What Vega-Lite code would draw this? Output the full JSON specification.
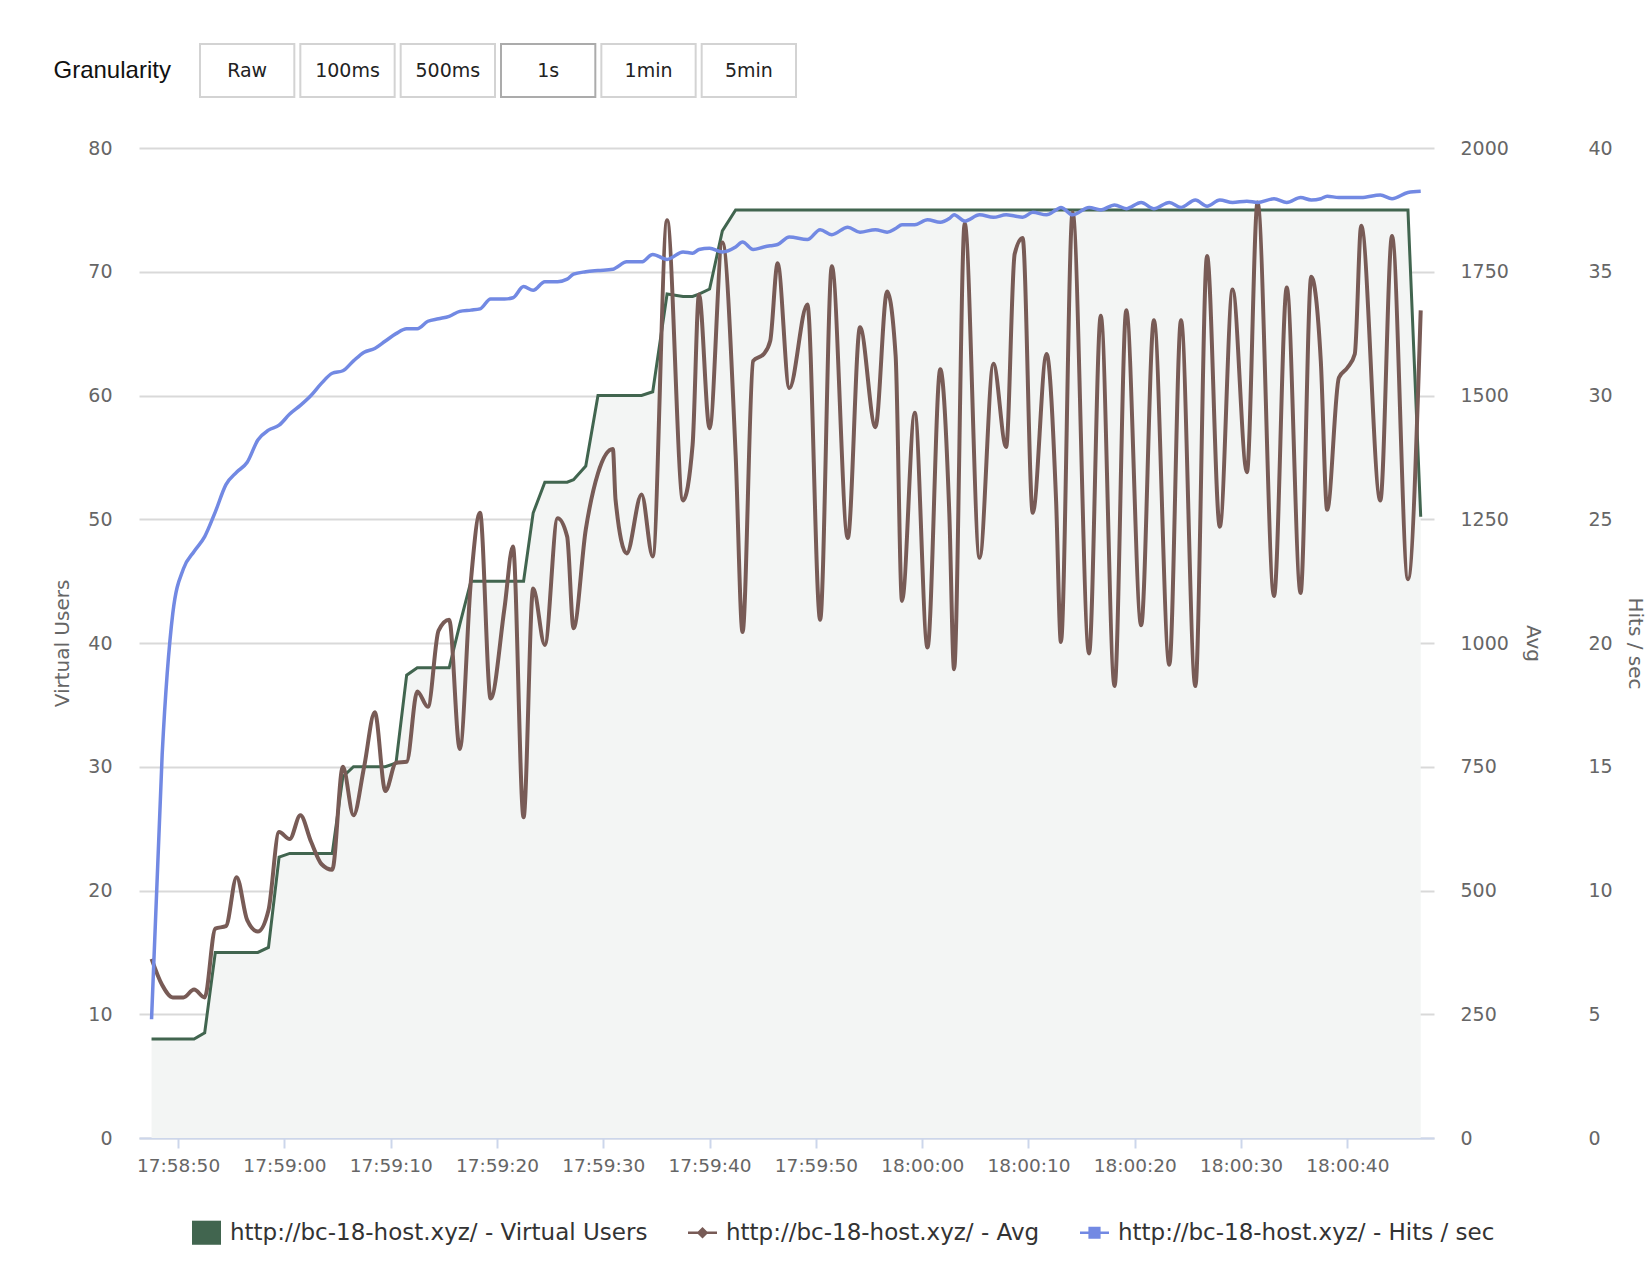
{
  "$schema": "https://vega.github.io/schema/vega-lite/v6.json",
  "background": "white",
  "padding": {"left": 52, "top": 43, "right": 2, "bottom": 0},
  "spacing": 41,
  "config": {
    "view": {"stroke": null},
    "font": "DejaVu Sans",
    "axis": {"labelFont": "DejaVu Sans", "titleFont": "DejaVu Sans"}
  },
  "vconcat": [
    {
      "width": 718,
      "height": 53,
      "data": {"values": [
        {"label": "Raw", "group": "Granularity"},
        {"label": "100ms", "group": "Granularity"},
        {"label": "500ms", "group": "Granularity"},
        {"label": "1s", "group": "Granularity"},
        {"label": "1min", "group": "Granularity"},
        {"label": "5min", "group": "Granularity"}
      ]},
      "encoding": {
        "x": {"field": "label", "type": "nominal", "sort": null, "scale": {"paddingInner": 0.06, "paddingOuter": 0.608}, "axis": null},
        "y": {"field": "group", "type": "nominal", "scale": {"paddingInner": 0, "paddingOuter": 0},
              "axis": {"title": null, "domain": false, "ticks": false, "tickSize": 0, "labelAlign": "left", "labelPadding": 86, "labelFont": "Liberation Sans", "labelFontSize": 24, "labelColor": "#111111", "labelLimit": 300}}
      },
      "layer": [
        {
          "mark": {"type": "rect", "fill": "white", "strokeWidth": 2},
          "encoding": {
            "stroke": {"condition": {"test": "datum.label === '1s'", "value": "#ababab"}, "value": "#d3d3d3"}
          }
        },
        {
          "mark": {"type": "text", "fontSize": 19, "color": "#222222", "font": "DejaVu Sans"},
          "encoding": {
            "text": {"field": "label"}
          }
        }
      ]
    },
    {
      "width": 1295,
      "height": 990,
      "data": {"values": [
        {"t": "2024-01-01T17:58:47.500Z", "vu": 8, "avg": 362, "hits": 4.8},
        {"t": "2024-01-01T17:58:48.500Z", "vu": 8, "avg": 309, "hits": 15.5},
        {"t": "2024-01-01T17:58:49.500Z", "vu": 8, "avg": 284, "hits": 21.2},
        {"t": "2024-01-01T17:58:50.500Z", "vu": 8, "avg": 284, "hits": 23.0},
        {"t": "2024-01-01T17:58:51.500Z", "vu": 8, "avg": 300, "hits": 23.7},
        {"t": "2024-01-01T17:58:52.500Z", "vu": 8.5, "avg": 284, "hits": 24.3},
        {"t": "2024-01-01T17:58:53.500Z", "vu": 15, "avg": 423, "hits": 25.3},
        {"t": "2024-01-01T17:58:54.500Z", "vu": 15, "avg": 428, "hits": 26.4},
        {"t": "2024-01-01T17:58:55.500Z", "vu": 15, "avg": 527, "hits": 26.9},
        {"t": "2024-01-01T17:58:56.500Z", "vu": 15, "avg": 440, "hits": 27.3},
        {"t": "2024-01-01T17:58:57.500Z", "vu": 15, "avg": 417, "hits": 28.2},
        {"t": "2024-01-01T17:58:58.500Z", "vu": 15.4, "avg": 460, "hits": 28.6},
        {"t": "2024-01-01T17:58:59.500Z", "vu": 22.7, "avg": 618, "hits": 28.8},
        {"t": "2024-01-01T17:59:00.500Z", "vu": 23, "avg": 604, "hits": 29.25},
        {"t": "2024-01-01T17:59:01.500Z", "vu": 23, "avg": 652, "hits": 29.6},
        {"t": "2024-01-01T17:59:02.500Z", "vu": 23, "avg": 599, "hits": 30.0},
        {"t": "2024-01-01T17:59:03.500Z", "vu": 23, "avg": 553, "hits": 30.5},
        {"t": "2024-01-01T17:59:04.500Z", "vu": 23, "avg": 542, "hits": 30.9},
        {"t": "2024-01-01T17:59:05.500Z", "vu": 29.2, "avg": 750, "hits": 31.0},
        {"t": "2024-01-01T17:59:06.500Z", "vu": 30, "avg": 652, "hits": 31.4},
        {"t": "2024-01-01T17:59:07.500Z", "vu": 30, "avg": 750, "hits": 31.75},
        {"t": "2024-01-01T17:59:08.500Z", "vu": 30, "avg": 860, "hits": 31.9},
        {"t": "2024-01-01T17:59:09.500Z", "vu": 30, "avg": 701, "hits": 32.2},
        {"t": "2024-01-01T17:59:10.500Z", "vu": 30.3, "avg": 758, "hits": 32.5},
        {"t": "2024-01-01T17:59:11.500Z", "vu": 37.4, "avg": 760, "hits": 32.7},
        {"t": "2024-01-01T17:59:12.500Z", "vu": 38, "avg": 902, "hits": 32.7},
        {"t": "2024-01-01T17:59:13.500Z", "vu": 38, "avg": 871, "hits": 33.0},
        {"t": "2024-01-01T17:59:14.500Z", "vu": 38, "avg": 1025, "hits": 33.1},
        {"t": "2024-01-01T17:59:15.500Z", "vu": 38, "avg": 1047, "hits": 33.2},
        {"t": "2024-01-01T17:59:16.500Z", "vu": 41.5, "avg": 786, "hits": 33.4},
        {"t": "2024-01-01T17:59:17.550Z", "vu": 45, "avg": 1127, "hits": 33.45},
        {"t": "2024-01-01T17:59:18.400Z", "vu": 45, "avg": 1263, "hits": 33.5},
        {"t": "2024-01-01T17:59:19.400Z", "vu": 45, "avg": 888, "hits": 33.9},
        {"t": "2024-01-01T17:59:20.700Z", "vu": 45, "avg": 1070, "hits": 33.9},
        {"t": "2024-01-01T17:59:21.500Z", "vu": 45, "avg": 1195, "hits": 33.95},
        {"t": "2024-01-01T17:59:22.500Z", "vu": 45, "avg": 648, "hits": 34.4},
        {"t": "2024-01-01T17:59:23.400Z", "vu": 50.5, "avg": 1110, "hits": 34.25},
        {"t": "2024-01-01T17:59:24.500Z", "vu": 53, "avg": 996, "hits": 34.6},
        {"t": "2024-01-01T17:59:25.700Z", "vu": 53, "avg": 1252, "hits": 34.6},
        {"t": "2024-01-01T17:59:26.600Z", "vu": 53, "avg": 1215, "hits": 34.7},
        {"t": "2024-01-01T17:59:27.200Z", "vu": 53.2, "avg": 1030, "hits": 34.9},
        {"t": "2024-01-01T17:59:28.350Z", "vu": 54.3, "avg": 1229, "hits": 35.0},
        {"t": "2024-01-01T17:59:29.500Z", "vu": 60, "avg": 1343, "hits": 35.05},
        {"t": "2024-01-01T17:59:30.900Z", "vu": 60, "avg": 1392, "hits": 35.1},
        {"t": "2024-01-01T17:59:31.150Z", "vu": 60, "avg": 1290, "hits": 35.15},
        {"t": "2024-01-01T17:59:32.200Z", "vu": 60, "avg": 1181, "hits": 35.4},
        {"t": "2024-01-01T17:59:33.600Z", "vu": 60, "avg": 1300, "hits": 35.4},
        {"t": "2024-01-01T17:59:34.650Z", "vu": 60.3, "avg": 1175, "hits": 35.7},
        {"t": "2024-01-01T17:59:36.000Z", "vu": 68.2, "avg": 1854, "hits": 35.5},
        {"t": "2024-01-01T17:59:37.500Z", "vu": 68, "avg": 1288, "hits": 35.8},
        {"t": "2024-01-01T17:59:38.400Z", "vu": 68, "avg": 1400, "hits": 35.75},
        {"t": "2024-01-01T17:59:39.000Z", "vu": 68.2, "avg": 1704, "hits": 35.9},
        {"t": "2024-01-01T17:59:40.000Z", "vu": 68.6, "avg": 1434, "hits": 35.95},
        {"t": "2024-01-01T17:59:41.200Z", "vu": 73.3, "avg": 1809, "hits": 35.8},
        {"t": "2024-01-01T17:59:42.450Z", "vu": 75, "avg": 1380, "hits": 36.0},
        {"t": "2024-01-01T17:59:43.100Z", "vu": 75, "avg": 1022, "hits": 36.2},
        {"t": "2024-01-01T17:59:44.100Z", "vu": 75, "avg": 1570, "hits": 35.9},
        {"t": "2024-01-01T17:59:45.100Z", "vu": 75, "avg": 1584, "hits": 36.0},
        {"t": "2024-01-01T17:59:45.700Z", "vu": 75, "avg": 1610, "hits": 36.05},
        {"t": "2024-01-01T17:59:46.400Z", "vu": 75, "avg": 1767, "hits": 36.1},
        {"t": "2024-01-01T17:59:47.500Z", "vu": 75, "avg": 1515, "hits": 36.4},
        {"t": "2024-01-01T17:59:49.200Z", "vu": 75, "avg": 1684, "hits": 36.3},
        {"t": "2024-01-01T17:59:50.400Z", "vu": 75, "avg": 1047, "hits": 36.7},
        {"t": "2024-01-01T17:59:51.500Z", "vu": 75, "avg": 1761, "hits": 36.5},
        {"t": "2024-01-01T17:59:53.000Z", "vu": 75, "avg": 1212, "hits": 36.8},
        {"t": "2024-01-01T17:59:54.150Z", "vu": 75, "avg": 1638, "hits": 36.6},
        {"t": "2024-01-01T17:59:55.600Z", "vu": 75, "avg": 1436, "hits": 36.7},
        {"t": "2024-01-01T17:59:56.700Z", "vu": 75, "avg": 1710, "hits": 36.6},
        {"t": "2024-01-01T17:59:57.500Z", "vu": 75, "avg": 1581, "hits": 36.75},
        {"t": "2024-01-01T17:59:58.100Z", "vu": 75, "avg": 1085, "hits": 36.9},
        {"t": "2024-01-01T17:59:59.300Z", "vu": 75, "avg": 1465, "hits": 36.9},
        {"t": "2024-01-01T18:00:00.500Z", "vu": 75, "avg": 991, "hits": 37.1},
        {"t": "2024-01-01T18:00:01.700Z", "vu": 75, "avg": 1553, "hits": 37.0},
        {"t": "2024-01-01T18:00:02.550Z", "vu": 75, "avg": 1263, "hits": 37.15},
        {"t": "2024-01-01T18:00:03.000Z", "vu": 75, "avg": 947, "hits": 37.3},
        {"t": "2024-01-01T18:00:04.000Z", "vu": 75, "avg": 1848, "hits": 37.05},
        {"t": "2024-01-01T18:00:05.400Z", "vu": 75, "avg": 1172, "hits": 37.3},
        {"t": "2024-01-01T18:00:06.700Z", "vu": 75, "avg": 1564, "hits": 37.2},
        {"t": "2024-01-01T18:00:07.900Z", "vu": 75, "avg": 1396, "hits": 37.3},
        {"t": "2024-01-01T18:00:08.700Z", "vu": 75, "avg": 1786, "hits": 37.25},
        {"t": "2024-01-01T18:00:09.450Z", "vu": 75, "avg": 1818, "hits": 37.2},
        {"t": "2024-01-01T18:00:10.400Z", "vu": 75, "avg": 1263, "hits": 37.4},
        {"t": "2024-01-01T18:00:11.700Z", "vu": 75, "avg": 1584, "hits": 37.3},
        {"t": "2024-01-01T18:00:12.600Z", "vu": 75, "avg": 1286, "hits": 37.5},
        {"t": "2024-01-01T18:00:13.050Z", "vu": 75, "avg": 1002, "hits": 37.6},
        {"t": "2024-01-01T18:00:14.150Z", "vu": 75, "avg": 1870, "hits": 37.3},
        {"t": "2024-01-01T18:00:15.700Z", "vu": 75, "avg": 979, "hits": 37.6},
        {"t": "2024-01-01T18:00:16.800Z", "vu": 75, "avg": 1661, "hits": 37.5},
        {"t": "2024-01-01T18:00:18.100Z", "vu": 75, "avg": 913, "hits": 37.7},
        {"t": "2024-01-01T18:00:19.200Z", "vu": 75, "avg": 1672, "hits": 37.55},
        {"t": "2024-01-01T18:00:20.600Z", "vu": 75, "avg": 1036, "hits": 37.8},
        {"t": "2024-01-01T18:00:21.800Z", "vu": 75, "avg": 1652, "hits": 37.55},
        {"t": "2024-01-01T18:00:23.250Z", "vu": 75, "avg": 956, "hits": 37.8},
        {"t": "2024-01-01T18:00:24.350Z", "vu": 75, "avg": 1652, "hits": 37.6},
        {"t": "2024-01-01T18:00:25.700Z", "vu": 75, "avg": 913, "hits": 37.9},
        {"t": "2024-01-01T18:00:26.800Z", "vu": 75, "avg": 1782, "hits": 37.65},
        {"t": "2024-01-01T18:00:28.000Z", "vu": 75, "avg": 1235, "hits": 37.9},
        {"t": "2024-01-01T18:00:29.200Z", "vu": 75, "avg": 1714, "hits": 37.8},
        {"t": "2024-01-01T18:00:30.550Z", "vu": 75, "avg": 1345, "hits": 37.85},
        {"t": "2024-01-01T18:00:31.550Z", "vu": 75, "avg": 1890, "hits": 37.8},
        {"t": "2024-01-01T18:00:33.100Z", "vu": 75, "avg": 1095, "hits": 37.95},
        {"t": "2024-01-01T18:00:34.300Z", "vu": 75, "avg": 1718, "hits": 37.8},
        {"t": "2024-01-01T18:00:35.600Z", "vu": 75, "avg": 1101, "hits": 38.0},
        {"t": "2024-01-01T18:00:36.600Z", "vu": 75, "avg": 1740, "hits": 37.9},
        {"t": "2024-01-01T18:00:37.500Z", "vu": 75, "avg": 1570, "hits": 37.95},
        {"t": "2024-01-01T18:00:38.100Z", "vu": 75, "avg": 1269, "hits": 38.05},
        {"t": "2024-01-01T18:00:39.200Z", "vu": 75, "avg": 1536, "hits": 38.0},
        {"t": "2024-01-01T18:00:40.000Z", "vu": 75, "avg": 1556, "hits": 38.0},
        {"t": "2024-01-01T18:00:40.700Z", "vu": 75, "avg": 1584, "hits": 38.0},
        {"t": "2024-01-01T18:00:41.300Z", "vu": 75, "avg": 1843, "hits": 38.0},
        {"t": "2024-01-01T18:00:43.100Z", "vu": 75, "avg": 1288, "hits": 38.1},
        {"t": "2024-01-01T18:00:44.200Z", "vu": 75, "avg": 1822, "hits": 37.95},
        {"t": "2024-01-01T18:00:45.700Z", "vu": 75, "avg": 1129, "hits": 38.2},
        {"t": "2024-01-01T18:00:46.900Z", "vu": 50.2, "avg": 1672, "hits": 38.25}
      ]},
      "encoding": {
        "x": {
          "field": "t", "type": "temporal",
          "scale": {"type": "utc", "domain": [
            {"utc": true, "year": 2024, "month": 1, "date": 1, "hours": 17, "minutes": 58, "seconds": 46, "milliseconds": 320},
            {"utc": true, "year": 2024, "month": 1, "date": 1, "hours": 18, "minutes": 0, "seconds": 48, "milliseconds": 150}
          ]},
          "axis": {
            "title": null, "format": "%H:%M:%S",
            "values": [
              {"utc": true, "year": 2024, "month": 1, "date": 1, "hours": 17, "minutes": 58, "seconds": 50},
              {"utc": true, "year": 2024, "month": 1, "date": 1, "hours": 17, "minutes": 59, "seconds": 0},
              {"utc": true, "year": 2024, "month": 1, "date": 1, "hours": 17, "minutes": 59, "seconds": 10},
              {"utc": true, "year": 2024, "month": 1, "date": 1, "hours": 17, "minutes": 59, "seconds": 20},
              {"utc": true, "year": 2024, "month": 1, "date": 1, "hours": 17, "minutes": 59, "seconds": 30},
              {"utc": true, "year": 2024, "month": 1, "date": 1, "hours": 17, "minutes": 59, "seconds": 40},
              {"utc": true, "year": 2024, "month": 1, "date": 1, "hours": 17, "minutes": 59, "seconds": 50},
              {"utc": true, "year": 2024, "month": 1, "date": 1, "hours": 18, "minutes": 0, "seconds": 0},
              {"utc": true, "year": 2024, "month": 1, "date": 1, "hours": 18, "minutes": 0, "seconds": 10},
              {"utc": true, "year": 2024, "month": 1, "date": 1, "hours": 18, "minutes": 0, "seconds": 20},
              {"utc": true, "year": 2024, "month": 1, "date": 1, "hours": 18, "minutes": 0, "seconds": 30},
              {"utc": true, "year": 2024, "month": 1, "date": 1, "hours": 18, "minutes": 0, "seconds": 40}
            ],
            "grid": false, "domainColor": "#ccd6eb", "domainWidth": 2, "tickColor": "#ccd6eb", "tickWidth": 2, "tickSize": 10,
            "labelFontSize": 18.5, "labelColor": "#666666", "labelPadding": 8, "labelFlush": false, "labelOverlap": false
          }
        }
      },
      "layer": [
        {
          "layer": [
            {
              "mark": {"type": "area", "color": "#f3f5f4", "interpolate": "linear", "clip": true},
              "encoding": {
                "y": {"field": "vu", "type": "quantitative", "scale": {"domain": [0, 80], "nice": false},
                      "axis": {"title": "Virtual Users", "values": [0, 10, 20, 30, 40, 50, 60, 70, 80], "format": "d", "grid": true, "gridColor": "#d9d9d9", "gridWidth": 2,
                               "domain": false, "ticks": false, "tickSize": 0, "labelPadding": 27, "labelFontSize": 19, "labelColor": "#666666",
                               "titleFontSize": 20, "titleFontWeight": "normal", "titleColor": "#666666", "titlePadding": 15, "labelOverlap": false}}
              }
            },
            {
              "mark": {"type": "line", "color": "#41654f", "strokeWidth": 3, "interpolate": "linear", "clip": true},
              "encoding": {
                "y": {"field": "vu", "type": "quantitative", "scale": {"domain": [0, 80], "nice": false}}
              }
            }
          ]
        },
        {
          "mark": {"type": "line", "color": "#785b56", "strokeWidth": 4, "interpolate": "monotone", "clip": true},
          "encoding": {
            "y": {"field": "avg", "type": "quantitative", "scale": {"domain": [0, 2000], "nice": false},
                  "axis": {"orient": "right", "title": "Avg", "values": [0, 250, 500, 750, 1000, 1250, 1500, 1750, 2000], "format": "d", "grid": false,
                           "domain": false, "ticks": false, "tickSize": 0, "labelPadding": 26, "labelFontSize": 19, "labelColor": "#666666",
                           "titleFontSize": 20, "titleFontWeight": "normal", "titleColor": "#666666", "titlePadding": 14, "labelOverlap": false}}
          }
        },
        {
          "mark": {"type": "line", "color": "#7289e3", "strokeWidth": 3.5, "interpolate": "monotone", "clip": true},
          "encoding": {
            "y": {"field": "hits", "type": "quantitative", "scale": {"domain": [0, 40], "nice": false},
                  "axis": {"orient": "right", "offset": 128, "title": "Hits / sec", "values": [0, 5, 10, 15, 20, 25, 30, 35, 40], "format": "d", "grid": false,
                           "domain": false, "ticks": false, "tickSize": 0, "labelPadding": 26, "labelFontSize": 19, "labelColor": "#666666",
                           "titleFontSize": 20, "titleFontWeight": "normal", "titleColor": "#666666", "titlePadding": 12, "labelOverlap": false}}
          }
        },
        {
          "data": {"values": [
            {"series": "http://bc-18-host.xyz/ - Virtual Users"},
            {"series": "http://bc-18-host.xyz/ - Avg"},
            {"series": "http://bc-18-host.xyz/ - Hits / sec"}
          ]},
          "transform": [{"filter": "false"}],
          "mark": {"type": "point", "filled": true, "opacity": 1},
          "encoding": {
            "x": {"value": 0},
            "y": {"value": 0},
            "color": {
              "field": "series", "type": "nominal",
              "scale": {"domain": ["http://bc-18-host.xyz/ - Virtual Users", "http://bc-18-host.xyz/ - Avg", "http://bc-18-host.xyz/ - Hits / sec"],
                        "range": ["#41654f", "#785b56", "#7289e3"]},
              "legend": {"title": null, "orient": "none", "legendX": 53, "legendY": 1174, "direction": "horizontal", "columns": 3,
                         "symbolSize": 841, "symbolStrokeWidth": 0, "labelFontSize": 23, "labelColor": "#333333", "labelFont": "DejaVu Sans",
                         "labelOffset": 9, "columnPadding": 40, "labelLimit": 600}
            },
            "shape": {
              "field": "series", "type": "nominal",
              "scale": {"domain": ["http://bc-18-host.xyz/ - Virtual Users", "http://bc-18-host.xyz/ - Avg", "http://bc-18-host.xyz/ - Hits / sec"],
                        "range": ["M-1,-0.83H1V0.83H-1Z", "M-1,-0.09H1V0.09H-1Z M0,-0.4L0.4,0L0,0.4L-0.4,0Z", "M-1,-0.09H1V0.09H-1Z M-0.42,-0.42H0.42V0.42H-0.42Z"]},
              "legend": {"title": null, "orient": "none", "legendX": 53, "legendY": 1174, "direction": "horizontal", "columns": 3,
                         "symbolSize": 841, "symbolStrokeWidth": 0, "labelFontSize": 23, "labelColor": "#333333", "labelFont": "DejaVu Sans",
                         "labelOffset": 9, "columnPadding": 40, "labelLimit": 600}
            }
          }
        }
      ],
      "resolve": {"scale": {"y": "independent"}}
    }
  ]
}
